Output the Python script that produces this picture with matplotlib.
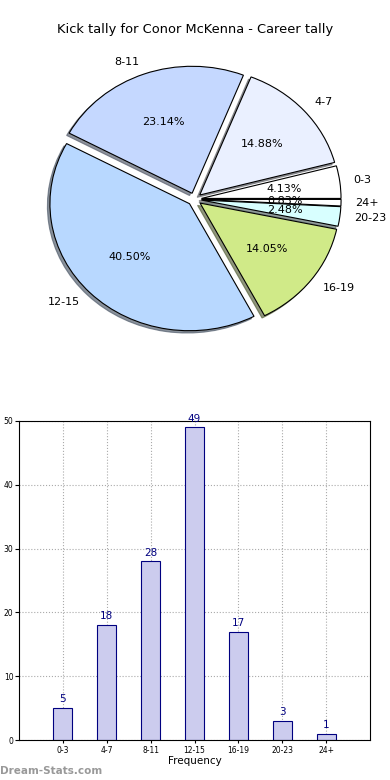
import matplotlib
matplotlib.use("Agg")
import matplotlib.pyplot as plt

categories = ["0-3", "4-7", "8-11", "12-15", "16-19", "20-23", "24+"]
counts = [5, 18, 28, 49, 17, 3, 1]
pie_colors = ["#ffffff", "#eaf0ff", "#c5d8ff", "#b8d8ff", "#d0ea88", "#d8ffff", "#ffffff"]
title = "Kick tally for Conor McKenna - Career tally"

fig = plt.figure(figsize=(3.9, 7.8), dpi=100)
fig.patch.set_facecolor("white")

# Pie chart
ax1 = fig.add_axes([20/390, 1 - 358/780, 349/390, 317.5/780])
wedges, texts, autotexts = ax1.pie(
    counts, labels=categories, colors=pie_colors, explode=[0.05]*len(counts),
    autopct="%1.2f%%",
    shadow={"ox": -0.013, "oy": -0.013, "shade": 0.6, "alpha": 0.65},
    startangle=0, pctdistance=0.6,
    labeldistance=1.1, wedgeprops=dict(edgecolor="black", linewidth=0.8),
    textprops=dict(fontsize=8))
ax1.set_aspect("auto")
ax1.set_xlim(-1.25, 1.25)
ax1.set_ylim(-1.25, 1.25)
fig.text(0.5, 1 - 30/780, title, ha="center", va="center", fontsize=9.4)

# Bar chart
ax2 = fig.add_axes([19/390, 40/780, 351/390, 319/780])
x = list(range(len(categories)))
bars = ax2.bar(x, counts, width=0.43, color="#ccccee", edgecolor="#000080", linewidth=0.8, zorder=2)
for xi, v in zip(x, counts):
    ax2.text(xi, v + 0.6, str(v), ha="center", va="bottom", color="#000080", fontsize=7.5)
ax2.set_xlim(-1, 7)
ax2.set_ylim(0, 50)
ax2.set_xticks(x)
ax2.set_xticklabels(categories, fontsize=5.5)
ax2.set_yticks([0, 10, 20, 30, 40, 50])
ax2.tick_params(axis="y", labelsize=5.5, length=3, direction="out", pad=1)
ax2.tick_params(axis="x", length=2, direction="out", pad=2)
ax2.grid(True, linestyle=":", color="#aaaaaa", linewidth=0.8, zorder=0)
ax2.set_axisbelow(True)
ax2.set_xlabel("Frequency", fontsize=7.5, labelpad=1)
for s in ax2.spines.values():
    s.set_color("black")
    s.set_linewidth(0.8)

fig.text(0.0, 1 - 771/780, "Dream-Stats.com", ha="left", va="center", fontsize=7.5,
         color="#999999", fontweight="bold")

fig.savefig("out.png", dpi=100, facecolor="white")
